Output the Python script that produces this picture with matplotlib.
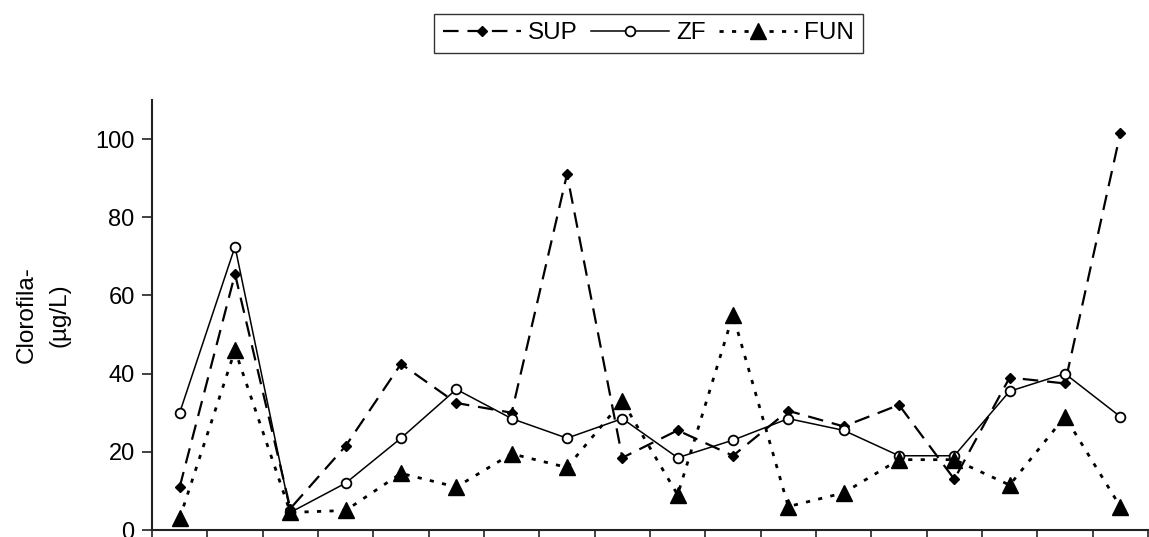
import matplotlib
matplotlib.use("Agg")
import matplotlib.pyplot as plt

plt.rcParams['font.family'] = ['Liberation Sans', 'DejaVu Sans']

# chlorophyll per sampling point, three depths
pontos = list(range(1, 19))
sup = [11, 65.5, 5.5, 21.5, 42.5, 32.5, 30, 91, 18.5, 25.5, 19, 30.5, 26.5, 32, 13, 39, 37.5, 101.5]
zf = [30, 72.5, 4.5, 12, 23.5, 36, 28.5, 23.5, 28.5, 18.5, 23, 28.5, 25.5, 19, 19, 35.5, 40, 29]
fun = [3, 46, 4.5, 5, 14.5, 11, 19.5, 16, 33, 9, 55, 6, 9.5, 18, 18, 11.5, 29, 6]

fig = plt.figure(figsize=(11.49, 5.37), dpi=100)
ax = fig.add_axes([0.1323, 0.013, 0.8668, 0.8007])

ax.plot(pontos, sup, color='black', lw=1.6, ls=(0, (7, 4)), marker='D', ms=5, label='SUP')
ax.plot(pontos, zf, color='black', lw=1.1, ls='-', marker='o', ms=7,
        markerfacecolor='white', markeredgewidth=1.3, label='ZF')
ax.plot(pontos, fun, color='black', lw=2, ls=(0, (1.5, 3)), marker='^', ms=11, label='FUN')

ax.set_xlim(0.5, 18.5)
ax.set_ylim(0, 110)
ax.set_xticks([p + 0.5 for p in range(0, 19)])
ax.set_xticklabels([])
ax.set_yticks(range(0, 101, 20))
ax.tick_params(axis='both', direction='out', length=7, width=1.2, labelsize=17, color='#222222')
ax.tick_params(axis='y', pad=5.5)
for s in ['top', 'right']:
    ax.spines[s].set_visible(False)
for s in ['left', 'bottom']:
    ax.spines[s].set_linewidth(1.5)
    ax.spines[s].set_color('#222222')

fig.text(0.0375, 0.4134, 'Clorofila-\n(µg/L)', rotation=90, fontsize=17.5,
         ha='center', va='center', multialignment='center', linespacing=1.6)

leg = fig.legend(loc='center', bbox_to_anchor=(0.5644, 0.9385), ncol=3, fontsize=17.5,
                 frameon=True, fancybox=False, edgecolor='black', handlelength=3.2,
                 columnspacing=0.55, handletextpad=0.3, borderpad=0.35, borderaxespad=0)
leg.get_frame().set_linewidth(1.0)

fig.savefig('out.png', dpi=100)
